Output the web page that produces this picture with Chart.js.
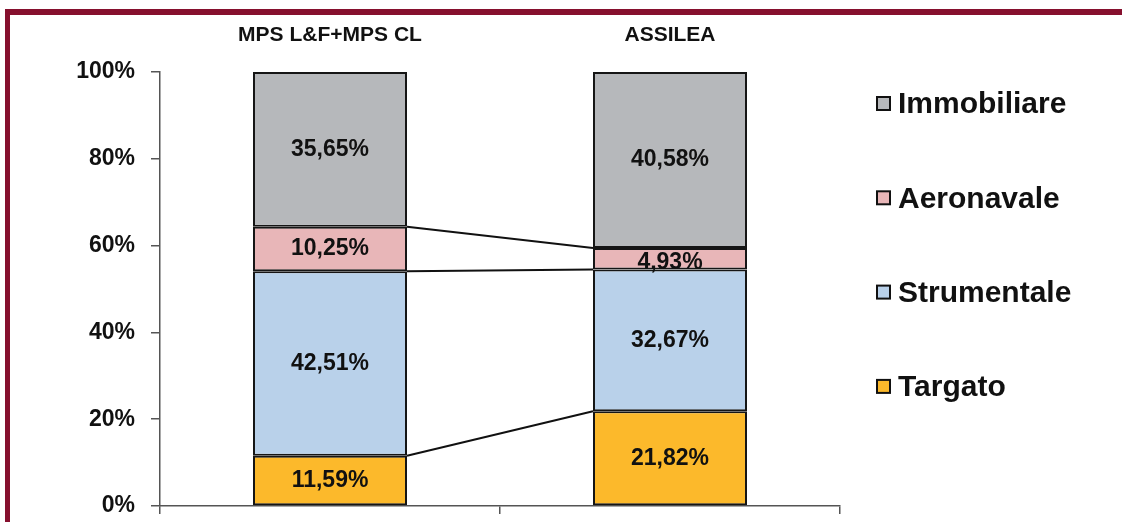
<!DOCTYPE html>
<html>
<head>
<meta charset="utf-8">
<script src="https://cdn.jsdelivr.net/npm/chart.js@4"></script>
<style>
  body { margin: 0; background: #fff; }
  #wrap { position: relative; width: 1122px; height: 522px; overflow: hidden; }
  #mix-chart { display: block; }
  #frame {
    position: absolute; left: 5px; top: 9px; width: 1130px; height: 530px;
    border-top: 6px solid #86102e; border-left: 5px solid #86102e;
    pointer-events: none;
  }
</style>
</head>
<body>
<div id="wrap">
  <canvas id="mix-chart" width="1122" height="522"></canvas>
  <div id="frame"></div>
</div>
<script>
// Composizione portafoglio per comparto (valori %)
const categories = ['MPS L&F+MPS CL', 'ASSILEA'];
const seriesNames = ['Targato', 'Strumentale', 'Aeronavale', 'Immobiliare'];
const targato = [11.59, 21.82];
const strumentale = [42.51, 32.67];
const aeronavale = [10.25, 4.93];
const immobiliare = [35.65, 40.58];
const yTicks = [0, 20, 40, 60, 80, 100];

const COLORS = ['#fcb92b', '#b9d1ea', '#e8b6b8', '#b6b8bb'];
const FONT = '"Liberation Sans", Arial, sans-serif';

function fmtPct(v) {
    return v.toFixed(2).replace('.', ',') + '%';
}

// linee di collegamento tra le barre (come le "linee serie" di Excel)
const seriesLines = {
    id: 'seriesLines',
    beforeDatasetsDraw(chart) {
        const ctx = chart.ctx;
        ctx.save();
        ctx.strokeStyle = '#111';
        ctx.lineWidth = 2;
        for (let d = 0; d < chart.data.datasets.length - 1; d++) {
            const els = chart.getDatasetMeta(d).data;
            for (let i = 0; i < els.length - 1; i++) {
                const a = els[i], b = els[i + 1];
                ctx.beginPath();
                ctx.moveTo(a.x + a.width / 2, a.y);
                ctx.lineTo(b.x - b.width / 2, b.y);
                ctx.stroke();
            }
        }
        ctx.restore();
    }
};

const valueLabels = {
    id: 'valueLabels',
    afterDatasetsDraw(chart) {
        const ctx = chart.ctx;
        ctx.save();
        ctx.font = 'bold 23px ' + FONT;
        ctx.fillStyle = '#111';
        ctx.textAlign = 'center';
        ctx.textBaseline = 'middle';
        chart.data.datasets.forEach((ds, d) => {
            chart.getDatasetMeta(d).data.forEach((el, i) => {
                const y = (el.y + el.base) / 2;
                ctx.fillText(fmtPct(ds.data[i]), el.x, y + (ds.data[i] < 6 ? 4 : 0));
            });
        });
        ctx.restore();
    }
};

const sideLegend = {
    id: 'sideLegend',
    afterDraw(chart) {
        const ctx = chart.ctx;
        const ds = chart.data.datasets.slice().reverse();
        ctx.save();
        ctx.font = 'bold 30px ' + FONT;
        ctx.textBaseline = 'middle';
        ctx.textAlign = 'left';
        ds.forEach((s, k) => {
            const y = 104 + k * 94.3;
            ctx.fillStyle = s.backgroundColor;
            ctx.fillRect(877, y - 7, 13, 13);
            ctx.strokeStyle = '#111';
            ctx.lineWidth = 2;
            ctx.strokeRect(877, y - 7, 13, 13);
            ctx.fillStyle = '#111';
            ctx.fillText(s.label, 898, y + 1);
        });
        ctx.restore();
    }
};

const datasets = [targato, strumentale, aeronavale, immobiliare].map((vals, i) => ({
    label: seriesNames[i],
    data: vals,
    backgroundColor: COLORS[i],
    borderColor: '#151515',
    borderWidth: 2,
    borderSkipped: false,
    categoryPercentage: 0.453,
    barPercentage: 1
}));

new Chart(document.getElementById('mix-chart'), {
    type: 'bar',
    data: { labels: categories, datasets },
    plugins: [seriesLines, valueLabels, sideLegend],
    options: {
        responsive: false,
        animation: false,
        layout: { padding: { left: 0, top: 0, right: 282, bottom: 0 } },
        plugins: {
            legend: { display: false },
            tooltip: { enabled: false }
        },
        scales: {
            x: {
                stacked: true,
                position: 'bottom',
                grid: {
                    offset: true,
                    drawOnChartArea: false,
                    color: '#555',
                    lineWidth: 1.5,
                    tickLength: 8
                },
                border: { color: '#555', width: 1.5 },
                ticks: { display: false },
                afterFit(scale) {
                    scale.height = 16;
                    scale.paddingLeft = 0;
                    scale.paddingRight = 0;
                }
            },
            x2: {
                type: 'category',
                labels: categories,
                position: 'top',
                offset: true,
                grid: { display: false, drawTicks: false },
                border: { display: false },
                ticks: {
                    color: '#111',
                    padding: 24,
                    font: { family: FONT, size: 21, weight: 'bold' }
                },
                afterFit(scale) {
                    scale.height = 72;
                    scale.paddingLeft = 0;
                    scale.paddingRight = 0;
                }
            },
            y: {
                stacked: true,
                min: 0,
                max: 100,
                afterBuildTicks(scale) {
                    scale.ticks = yTicks.map(v => ({ value: v }));
                },
                grid: {
                    drawOnChartArea: false,
                    color: '#555',
                    lineWidth: 1.5,
                    tickLength: 9
                },
                border: { color: '#555', width: 1.5 },
                ticks: {
                    color: '#111',
                    padding: 16,
                    font: { family: FONT, size: 23, weight: 'bold' },
                    callback: v => v + '%'
                },
                afterFit(scale) {
                    scale.width = 160;
                    scale.paddingTop = 0;
                    scale.paddingBottom = 0;
                }
            }
        }
    }
});
</script>
</body>
</html>
